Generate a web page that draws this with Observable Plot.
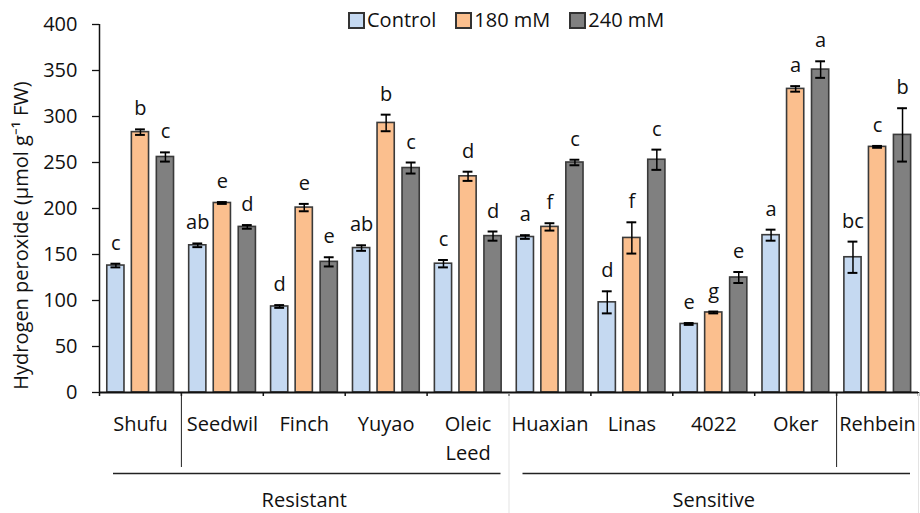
<!DOCTYPE html>
<html>
<head>
<meta charset="utf-8">
<script src="https://cdn.jsdelivr.net/npm/d3@7"></script>
<script src="https://cdn.jsdelivr.net/npm/@observablehq/plot@0.6"></script>
<style>
  html, body { margin: 0; padding: 0; background: #fff; }
  #wrap { position: relative; width: 920px; height: 513px; font-family: "Open Sans", sans-serif; }
  #legend { position: absolute; top: 6px; left: 348px; display: flex; font-size: 20px; line-height: 28px; color: #111; }
  #legend .item { display: flex; align-items: center; margin-right: 19px; }
  #legend .sw { width: 13px; height: 13px; border: 2px solid #333; margin-right: 2px; box-sizing: content-box; }
</style>
</head>
<body>
<div id="wrap"><div id="legend"></div><div id="chart"></div></div>
<script>
// ---- data ----
const cultivars = ["Shufu", "Seedwil", "Finch", "Yuyao", "Oleic\nLeed", "Huaxian", "Linas", "4022", "Oker", "Rehbein"];
const treatments = ["Control", "180 mM", "240 mM"];
const controlMean = [138, 160, 93.5, 157, 140, 169, 98, 74.5, 171, 147];
const controlErr  = [2, 2, 1.5, 3, 4, 2, 12, 1, 6, 17];
const mM180Mean   = [283, 206, 201, 293, 235, 180, 168, 87, 330, 267];
const mM180Err    = [3, 1, 4, 9, 5, 4, 17, 1, 3, 1];
const mM240Mean   = [256, 180, 142, 244, 170, 250, 253, 125, 351, 280];
const mM240Err    = [5, 2, 5, 6, 5, 3, 11, 6, 9, 29];
const controlLetters = ["c", "ab", "d", "ab", "c", "a", "d", "e", "a", "bc"];
const mM180Letters   = ["b", "e", "e", "b", "d", "f", "f", "g", "a", "c"];
const mM240Letters   = ["c", "d", "e", "c", "d", "c", "c", "e", "a", "b"];
const groups = ["Resistant", "Sensitive"];
const groupStart = [0, 5];
const groupEnd = [5, 10];
const separators = [1, 9];
const faintSeparators = [5, 10];
const yTicks = [0, 50, 100, 150, 200, 250, 300, 350, 400];

// ---- styles ----
const colors = ["#c5d9f1", "#fbbf8e", "#808080"];
const offsets = [-0.3, 0, 0.305];
const halfW = 0.105;
const capW = 0.06;
const fs = 20;

const means = [controlMean, mM180Mean, mM240Mean];
const errs = [controlErr, mM180Err, mM240Err];
const letters = [controlLetters, mM180Letters, mM240Letters];
const rows = [];
cultivars.forEach((c, i) => treatments.forEach((t, j) => {
  rows.push({cultivar: c, idx: i, treatment: t, t: j, mean: means[j][i], err: errs[j][i], letter: letters[j][i]});
}));
const cx = d => d.idx + 0.5 + offsets[d.t];
const boundaries = d3.range(0, cultivars.length + 1);

const chart = Plot.plot({
  width: 920,
  height: 513,
  marginLeft: 99,
  marginRight: 2,
  marginTop: 24,
  marginBottom: 121,
  style: {fontFamily: "Open Sans", fontSize: fs + "px", color: "#111", background: "transparent"},
  x: {type: "linear", domain: [0, 10], axis: null},
  y: {type: "linear", domain: [0, 400], axis: null},
  color: {domain: treatments, range: colors},
  marks: [
    Plot.rectY(rows, {x1: d => cx(d) - halfW, x2: d => cx(d) + halfW, y1: 0, y2: "mean", fill: "treatment", stroke: "#3a3a3a", strokeWidth: 1.6}),
    Plot.ruleX(rows, {x: cx, y1: d => d.mean - d.err, y2: d => d.mean + d.err, stroke: "#000", strokeWidth: 1.5}),
    Plot.ruleY(rows, {y: d => d.mean + d.err, x1: d => cx(d) - capW, x2: d => cx(d) + capW, stroke: "#000", strokeWidth: 2}),
    Plot.ruleY(rows, {y: d => d.mean - d.err, x1: d => cx(d) - capW, x2: d => cx(d) + capW, stroke: "#000", strokeWidth: 2}),
    Plot.text(rows, {x: cx, y: d => d.mean + d.err, text: "letter", lineAnchor: "bottom", dy: -14, fontSize: fs, fill: "#111"}),
    // y axis
    Plot.axisY({ticks: yTicks, tickSize: 7, tickPadding: 15, fontSize: fs, stroke: "#111", strokeWidth: 1.3, label: null}),
    Plot.ruleX([0], {stroke: "#111", strokeWidth: 1.5}),
    Plot.text(["Hydrogen peroxide (µmol g⁻¹ FW)"], {frameAnchor: "left", textAnchor: "middle", lineAnchor: "middle", rotate: -90, dx: -78, dy: 27, fontSize: 20, fill: "#111"}),
    // x axis
    Plot.ruleY([0], {stroke: "#111", strokeWidth: 2}),
    Plot.ruleX(boundaries, {x: d => d, y1: 0, y2: 0, insetBottom: -4, stroke: "#111", strokeWidth: 1.5}),
    Plot.text(cultivars, {x: (d, i) => i + 0.5, y: 0, text: d => d, lineAnchor: "top", dy: 18, lineHeight: 1.45, fontSize: fs, fill: "#111"}),
    Plot.ruleX(separators, {x: d => d, y1: 0, y2: 0, insetTop: 1, insetBottom: -75, stroke: "#222", strokeWidth: 1}),
    Plot.ruleX(faintSeparators, {x: d => d, y1: 0, y2: 0, insetTop: 1, insetBottom: -121, stroke: "#e3e3e3", strokeWidth: 1}),
    Plot.ruleY(groups, {y: 0, x1: (d, i) => groupStart[i], x2: (d, i) => groupEnd[i], insetLeft: 14, insetRight: 8, dy: 81, stroke: "#222", strokeWidth: 1.3}),
    Plot.text(groups, {x: (d, i) => (groupStart[i] + groupEnd[i]) / 2, y: 0, text: d => d, lineAnchor: "top", dy: 100, fontSize: fs, fill: "#111"})
  ]
});
document.getElementById("chart").appendChild(chart);

const legend = document.getElementById("legend");
treatments.forEach((t, j) => {
  const item = document.createElement("div");
  item.className = "item";
  const sw = document.createElement("span");
  sw.className = "sw";
  sw.style.background = colors[j];
  const lab = document.createElement("span");
  lab.textContent = t;
  item.appendChild(sw); item.appendChild(lab);
  legend.appendChild(item);
});
</script>
</body>
</html>
